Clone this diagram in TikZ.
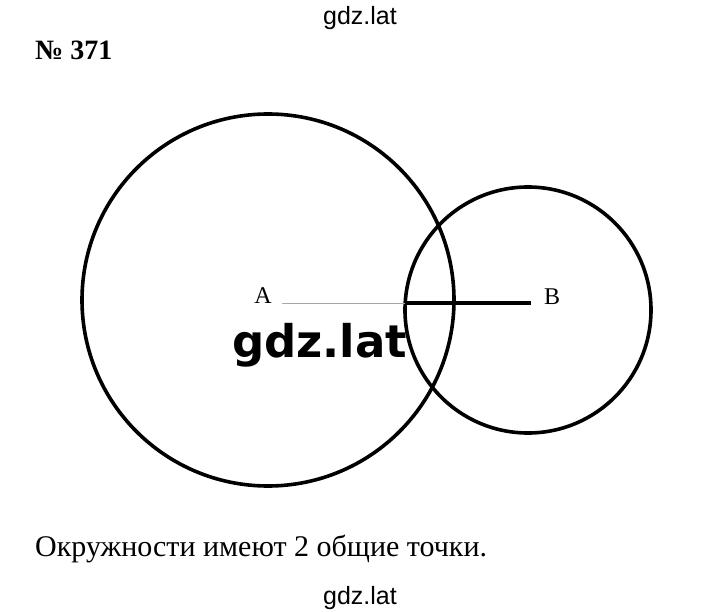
\documentclass[tikz,border=0pt]{standalone}
\usepackage{fontspec}
\setmainfont{Liberation Serif}
\newfontfamily\gdzfont{Liberation Sans}
\newfontfamily\gdzheavy{DejaVu Sans}
\usetikzlibrary{calc}
\tikzset{
  ring/.style={line width=3.6pt, color=black},
  thinseg/.style={line width=0.9pt, color=black!35},
  thickseg/.style={line width=3.2pt, color=black},
  ptlabel/.style={inner sep=0pt, font=\fontsize{24}{26}\selectfont},
  mark text/.style={inner sep=0pt, font=\gdzfont\fontsize{25}{27}\selectfont}
}

\begin{document}
\begin{tikzpicture}[x=1pt, y=-1pt]
			%%%%% START %%%%%
			\useasboundingbox (0, 0) rectangle (720, 612);
			
			\node[mark text] (topmark) at (360, 18) {gdz.lat};
			\node[inner sep=0pt, anchor=base west, font=\bfseries\fontsize{28}{30}\selectfont] (task) at (35, 60) {№ 371};
			
			\coordinate (A) at (282, 303);
			\coordinate (B) at (531, 303);
			\coordinate (P) at (405, 303);
			
			\draw[ring] (268, 300) circle (186pt);
			\draw[ring] (528, 310) circle (123pt);
			
			\draw[thinseg] (A) -- (P);
			\draw[thickseg] (P) -- (B);
			
			\node[ptlabel] (labA) at (263, 296) {A};
			\node[ptlabel] (labB) at (552, 297) {B};
			
			\node[inner sep=0pt, anchor=base west, font=\gdzheavy\bfseries\fontsize{45}{47}\selectfont] (midmark) at (232, 357) {gdz.lat};
			
			\node[inner sep=0pt, anchor=base west, font=\fontsize{30}{32}\selectfont] (answer) at (35, 556) {Окружности имеют 2 общие точки.};
			
			\node[mark text] (botmark) at (360, 598) {gdz.lat};
			%%%%% END %%%%%
\end{tikzpicture}
\end{document}
